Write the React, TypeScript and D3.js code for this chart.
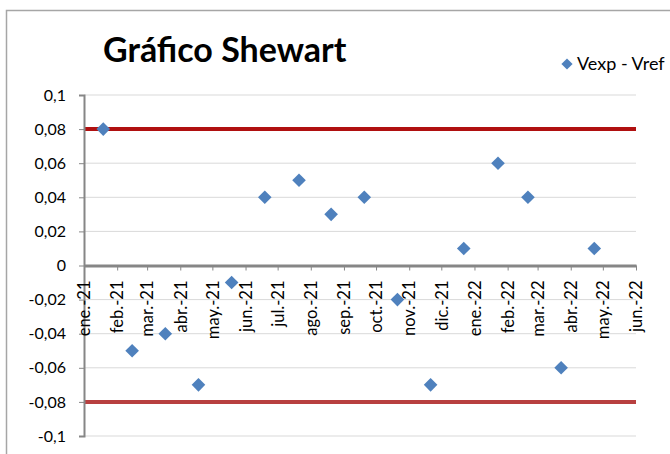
import React, { useEffect, useRef } from "react";
import * as d3 from "d3";

// month ticks on the x axis
const monthTicks = [
  "2021-01-01", "2021-02-01", "2021-03-01", "2021-04-01", "2021-05-01", "2021-06-01",
  "2021-07-01", "2021-08-01", "2021-09-01", "2021-10-01", "2021-11-01", "2021-12-01",
  "2022-01-01", "2022-02-01", "2022-03-01", "2022-04-01", "2022-05-01", "2022-06-01",
];
const monthNames = ["ene.", "feb.", "mar.", "abr.", "may.", "jun.", "jul.", "ago.", "sep.", "oct.", "nov.", "dic."];

// measurement dates and Vexp - Vref
const sampleDates = [
  "2021-01-19", "2021-02-15", "2021-03-18", "2021-04-18", "2021-05-19", "2021-06-19",
  "2021-07-21", "2021-08-20", "2021-09-20", "2021-10-21", "2021-11-21", "2021-12-22",
  "2022-01-23", "2022-02-20", "2022-03-23", "2022-04-23",
];
const diffValues = [0.08, -0.05, -0.04, -0.07, -0.01, 0.04, 0.05, 0.03, 0.04, -0.02, -0.07, 0.01, 0.06, 0.04, -0.06, 0.01];

const yTicks = [0.1, 0.08, 0.06, 0.04, 0.02, 0, -0.02, -0.04, -0.06, -0.08, -0.1];
const controlLimits = [0.08, -0.08];

const parse = d3.timeParse("%Y-%m-%d");

export default function App() {
  const ref = useRef<SVGSVGElement>(null);

  useEffect(() => {
    const svg = d3.select(ref.current);
    svg.selectAll("*").remove();

    const font = "Lato, 'Open Sans', sans-serif";
    const left = 84;
    const right = 636;
    const top = 95;
    const bottom = 436;

    const x = d3
      .scaleTime()
      .domain([parse(monthTicks[0])!, parse(monthTicks[monthTicks.length - 1])!])
      .range([left, right]);
    const y = d3.scaleLinear().domain([-0.1, 0.1]).range([bottom, top]);

    // chart frame
    svg
      .append("path")
      .attr("d", "M6.5,460 V10.5 H680")
      .attr("fill", "none")
      .attr("stroke", "#a6a6a6")
      .attr("stroke-width", 1.5);

    // gridlines
    svg
      .append("g")
      .selectAll("line")
      .data(yTicks.filter((d) => d !== 0))
      .join("line")
      .attr("x1", left)
      .attr("x2", right)
      .attr("y1", (d) => y(d))
      .attr("y2", (d) => y(d))
      .attr("stroke", "#d9d9d9")
      .attr("stroke-width", 1);

    // control limits
    svg
      .append("g")
      .selectAll("line")
      .data(controlLimits)
      .join("line")
      .attr("x1", left)
      .attr("x2", right)
      .attr("y1", (d) => y(d))
      .attr("y2", (d) => y(d))
      .attr("stroke", (d) => (d > 0 ? "#b01010" : "#b84040"))
      .attr("stroke-width", 4);

    // y axis
    const yAxis = svg
      .append("g")
      .attr("transform", `translate(${left},0)`)
      .call(
        d3
          .axisLeft(y)
          .tickValues(yTicks)
          .tickSize(5)
          .tickPadding(13)
          .tickFormat((d) => String(+d.valueOf()).replace(".", ","))
      );
    yAxis.select(".domain").attr("stroke", "#868686").attr("stroke-width", 2);
    yAxis.selectAll(".tick line").attr("stroke", "#868686");
    yAxis
      .selectAll("text")
      .style("font-family", font)
      .style("font-size", "16px")
      .attr("fill", "#000");

    // x axis at zero
    const xAxis = svg
      .append("g")
      .attr("transform", `translate(0,${y(0)})`)
      .call(
        d3
          .axisBottom(x)
          .tickValues(monthTicks.map((d) => parse(d)!))
          .tickSize(5)
          .tickSizeOuter(0)
          .tickFormat((d) => {
            const dt = d as Date;
            return `${monthNames[dt.getMonth()]}-${String(dt.getFullYear()).slice(2)}`;
          })
      );
    xAxis.select(".domain").attr("stroke", "#868686").attr("stroke-width", 3);
    xAxis.selectAll(".tick line").attr("stroke", "#868686");
    xAxis
      .selectAll("text")
      .style("font-family", font)
      .style("font-size", "16.5px")
      .attr("fill", "#000")
      .attr("text-anchor", "end")
      .attr("dy", "0.35em")
      .attr("transform", "translate(0,15) rotate(-90)")
      .attr("x", 0)
      .attr("y", 0);

    // points
    const diamond = d3.symbol().type(d3.symbolDiamond2).size(118);
    svg
      .append("g")
      .selectAll("path")
      .data(sampleDates.map((d, i) => ({ date: parse(d)!, value: diffValues[i] })))
      .join("path")
      .attr("d", diamond)
      .attr("transform", (d) => `translate(${x(d.date)},${y(d.value)})`)
      .attr("fill", "#4f81bd");

    // title
    svg
      .append("text")
      .attr("x", 103)
      .attr("y", 62)
      .style("font-family", font)
      .style("font-size", "34px")
      .style("font-weight", "bold")
      .attr("fill", "#000")
      .text("Gráfico Shewart");

    // legend
    svg
      .append("path")
      .attr("d", d3.symbol().type(d3.symbolDiamond2).size(80)())
      .attr("transform", "translate(567,64)")
      .attr("fill", "#4f81bd");
    svg
      .append("text")
      .attr("x", 577)
      .attr("y", 70)
      .style("font-family", font)
      .style("font-size", "18px")
      .attr("fill", "#000")
      .text("Vexp - Vref");
  }, []);

  return (
    <svg
      ref={ref}
      width={670}
      height={454}
      style={{ position: "absolute", left: 0, top: 0, background: "#fff" }}
    />
  );
}
